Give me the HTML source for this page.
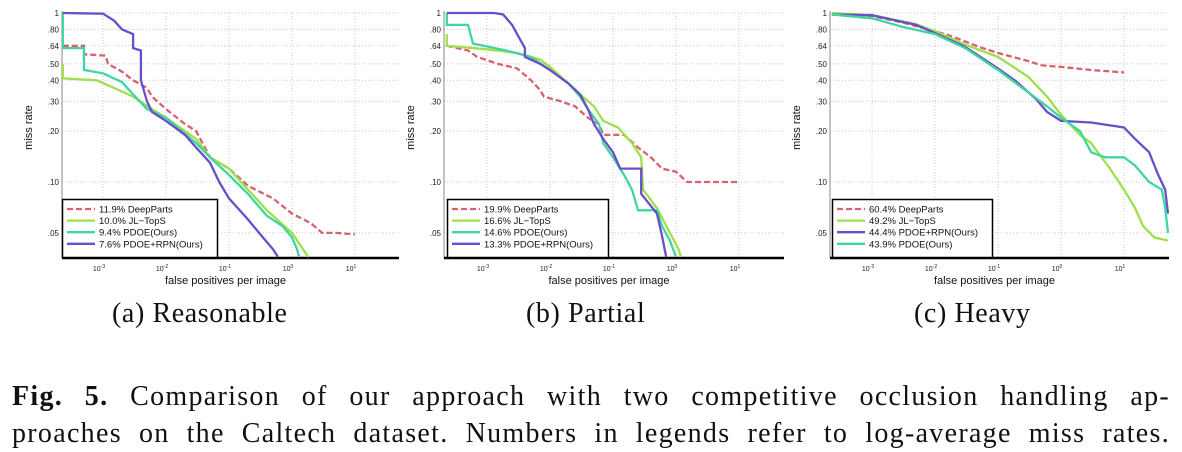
<!DOCTYPE html>
<html><head><meta charset="utf-8"><style>
body{margin:0;background:#fff;width:1182px;height:452px;overflow:hidden;position:relative;font-family:"Liberation Sans",sans-serif}
svg{position:absolute;left:0;top:0}
.cap{position:absolute;font-family:"Liberation Serif",serif;font-size:28px;letter-spacing:0.6px;color:#111;white-space:nowrap}
.fig{position:absolute;left:12px;width:1158px;font-family:"Liberation Serif",serif;font-size:28px;letter-spacing:1.3px;color:#111;text-align:justify;text-align-last:justify;white-space:nowrap}
</style></head><body>
<svg id="chart" width="1182" height="300"></svg>
<div class="cap" style="left:112px;top:298px">(a) Reasonable</div>
<div class="cap" style="left:526px;top:298px">(b) Partial</div>
<div class="cap" style="left:914px;top:298px">(c) Heavy</div>
<div class="fig" style="top:381px"><b>Fig. 5.</b> Comparison of our approach with two competitive occlusion handling ap-</div>
<div class="fig" style="top:418px">proaches on the Caltech dataset. Numbers in legends refer to log-average miss rates.</div>
<script>
const yTicks=[1,0.8,0.64,0.5,0.4,0.3,0.2,0.1,0.05];
const yTickLabels=["1",".80",".64",".50",".40",".30",".20",".10",".05"];
const xTicks=[-3,-2,-1,0,1];
const colors={dp:"#d9606f",jl:"#9ee04a",pd:"#3fd6a2",rpn:"#6b4ec9"};
// panel a
const aDeep=[[2.3e-4,.64],[5e-4,.64],[5e-4,.57],[1.1e-3,.56],[1.2e-3,.5],[2e-3,.45],[3e-3,.4],[5e-3,.36],[6e-3,.32],[1e-2,.27],[2e-2,.22],[3e-2,.2],[5e-2,.14],[1e-1,.12],[2e-1,.095],[5e-1,.08],[1,.065],[2,.057],[3,.05],[5,.05],[10,.049]];
const aJL=[[2.3e-4,.5],[2.3e-4,.41],[8e-4,.4],[1.5e-3,.36],[3e-3,.32],[6e-3,.27],[1e-2,.24],[3e-2,.18],[5e-2,.14],[1e-1,.12],[2e-1,.09],[4e-1,.068],[1,.05],[1.5,.04],[1.8,.036]];
const aPD=[[2.3e-4,1],[2.3e-4,.62],[5e-4,.62],[5e-4,.46],[1e-3,.44],[2e-3,.39],[3e-3,.33],[5e-3,.27],[1e-2,.24],[3e-2,.17],[5e-2,.14],[1e-1,.11],[2e-1,.085],[4e-1,.063],[7e-1,.055],[1,.047],[1.2,.04],[1.3,.036]];
const aRPN=[[2.3e-4,1],[1e-3,.99],[1.5e-3,.9],[2e-3,.8],[3e-3,.75],[3e-3,.62],[4e-3,.6],[4e-3,.4],[5e-3,.3],[6e-3,.26],[1e-2,.23],[2e-2,.19],[3e-2,.16],[5e-2,.13],[7e-2,.1],[1e-1,.08],[2e-1,.06],[3e-1,.05],[5e-1,.04],[6e-1,.036]];
// panel b
const bDeep=[[2.3e-4,.64],[5e-4,.6],[7e-4,.55],[1.5e-3,.5],[3e-3,.47],[5e-3,.4],[7e-3,.35],[8e-3,.32],[1.5e-2,.3],[2.5e-2,.28],[4e-2,.24],[6e-2,.22],[7e-2,.19],[1.5e-1,.19],[2.5e-1,.16],[4e-1,.14],[6e-1,.12],[1,.115],[1.5,.1],[10,.1]];
const bJL=[[2.3e-4,.75],[2.3e-4,.64],[1e-3,.61],[3e-3,.58],[7e-3,.53],[1e-2,.48],[2e-2,.38],[3e-2,.33],[5e-2,.28],[7e-2,.23],[1.2e-1,.21],[2e-1,.17],[2.8e-1,.14],[3e-1,.09],[5e-1,.07],[8e-1,.05],[1.1,.04],[1.2,.036]];
const bPD=[[2.3e-4,1],[2.3e-4,.85],[5e-4,.85],[6e-4,.66],[2e-3,.6],[5e-3,.55],[1e-2,.46],[2e-2,.38],[3e-2,.32],[4e-2,.27],[6e-2,.22],[7e-2,.17],[1e-1,.14],[1.5e-1,.11],[2e-1,.09],[2.5e-1,.068],[5e-1,.068],[6e-1,.055],[8e-1,.045],[1,.036]];
const bRPN=[[2.3e-4,1],[1.3e-3,1],[1.8e-3,.98],[2.5e-3,.85],[3e-3,.75],[4e-3,.62],[4e-3,.55],[7e-3,.5],[1e-2,.46],[2e-2,.38],[3e-2,.33],[4e-2,.27],[5e-2,.22],[7e-2,.18],[1e-1,.15],[1.3e-1,.12],[2.8e-1,.12],[2.8e-1,.085],[5e-1,.065],[6e-1,.048],[7e-1,.036]];
// panel c
const cDeep=[[2.3e-4,.98],[1e-3,.96],[3e-3,.88],[1e-2,.78],[2e-2,.72],[5e-2,.63],[1e-1,.58],[3e-1,.52],[5e-1,.49],[1,.48],[3,.46],[10,.445]];
const cJL=[[2.3e-4,1],[1e-3,.97],[5e-3,.86],[1e-2,.78],[3e-2,.65],[1e-1,.55],[3e-1,.42],[6e-1,.32],[1,.25],[2,.19],[3,.17],[6,.12],[10,.09],[15,.07],[20,.055],[30,.047],[50,.045]];
const cRPN=[[2.3e-4,.98],[1e-3,.97],[5e-3,.85],[1e-2,.76],[3e-2,.63],[1e-1,.47],[2e-1,.39],[4e-1,.31],[6e-1,.26],[1,.23],[3,.225],[10,.21],[15,.18],[25,.15],[35,.11],[45,.09],[50,.065]];
const cPD=[[2.3e-4,.98],[1e-3,.93],[3e-3,.83],[1e-2,.75],[3e-2,.62],[1e-1,.46],[3e-1,.34],[6e-1,.28],[1,.24],[2,.2],[3,.15],[5,.14],[10,.14],[15,.125],[25,.1],[40,.09],[45,.07],[50,.05]];

const NS="http://www.w3.org/2000/svg";
const svg=document.getElementById('chart');
function mk(tag,attrs,parent){const e=document.createElementNS(NS,tag);for(const k in attrs)e.setAttribute(k,attrs[k]);(parent||svg).appendChild(e);return e;}
const panels=[
 {id:"a",left:62,dec:103,right:399,series:[["dp",aDeep,"11.9% DeepParts"],["jl",aJL,"10.0% JL−TopS"],["pd",aPD,"9.4% PDOE(Ours)"],["rpn",aRPN,"7.6% PDOE+RPN(Ours)"]],leg:[62,217]},
 {id:"b",left:444,dec:487,right:784,series:[["dp",bDeep,"19.9% DeepParts"],["jl",bJL,"16.6% JL−TopS"],["pd",bPD,"14.6% PDOE(Ours)"],["rpn",bRPN,"13.3% PDOE+RPN(Ours)"]],leg:[447,608]},
 {id:"c",left:830,dec:872,right:1169,series:[["dp",cDeep,"60.4% DeepParts"],["jl",cJL,"49.2% JL−TopS"],["rpn",cRPN,"44.4% PDOE+RPN(Ours)"],["pd",cPD,"43.9% PDOE(Ours)"]],leg:[832,992]}
];
const TOP=13,BOT=258,YD=169,XD=63;
panels.forEach(p=>{
 const g=mk('g',{});
 
 
 const xs=v=>p.dec+(Math.log10(v)+3)*XD;
 const ys=v=>TOP-Math.log10(v)*YD;
 const cp=mk('clipPath',{id:'clip'+p.id},g);
 mk('rect',{x:p.left,y:TOP-3,width:p.right-p.left,height:BOT-TOP+3},cp);
 yTicks.forEach((t,i)=>{
  const y=ys(t);
  const gl=mk('line',{x1:p.left,x2:p.right,y1:y,y2:y,stroke:"#c8c8c8","stroke-width":1,"stroke-dasharray":"1,2"},g);
  
  const tl=mk('text',{x:p.left-3,y:y+3,"font-size":8,"text-anchor":"end",fill:"#222"},g);
  
  tl.textContent=yTickLabels[i];
 });
 xTicks.forEach(t=>{
  const x=p.dec+(t+3)*XD;
  const gl=mk('line',{x1:x,x2:x,y1:TOP,y2:BOT,stroke:"#c8c8c8","stroke-width":1,"stroke-dasharray":"1,2"},g);
  
  const tl=mk('text',{x:x-4,y:BOT+13,"font-size":7,"text-anchor":"middle",fill:"#222"},g);
  
  tl.textContent="10";
  const sp=mk('tspan',{dy:-3,"font-size":5},tl);sp.textContent=String(t);
 });
 mk('line',{x1:p.left,x2:p.left,y1:TOP-2,y2:BOT,stroke:"#888","stroke-width":1},g);
 const xa=mk('line',{x1:p.left,x2:p.right,y1:BOT,y2:BOT,stroke:"#000","stroke-width":2.5},g);
 
 const xt=mk('text',{x:(p.left+p.right)/2-5,y:BOT+26,"font-size":11,"text-anchor":"middle",fill:"#111"},g);
 
 xt.textContent="false positives per image";
 const yt=mk('text',{x:0,y:0,"font-size":11,"text-anchor":"middle",fill:"#111",transform:`translate(${p.left-30},${(TOP+BOT)/2-8}) rotate(-90)`},g);
 
 yt.textContent="miss rate";
 const sg=mk('g',{"clip-path":`url(#clip${p.id})`},g);
 p.series.forEach(([k,data])=>{
  let d="";data.forEach((pt,i)=>{d+=(i?"L":"M")+xs(pt[0]).toFixed(1)+","+ys(pt[1]).toFixed(1);});
  const path=mk('path',{d:d,fill:"none",stroke:colors[k],"stroke-width":2.3,"stroke-linejoin":"miter","stroke-dasharray":k==="dp"?"6,3":"none"},sg);
  
  
 });
 const lg=mk('g',{},g);
 
 
 mk('rect',{x:p.leg[0]+0.5,y:199.5,width:p.leg[1]-p.leg[0],height:58,fill:"#fff",stroke:"#000","stroke-width":1.5},lg);
 p.series.forEach(([k,,label],i)=>{
  const y=209+i*11.6;
  mk('line',{x1:p.leg[0]+5,x2:p.leg[0]+33,y1:y,y2:y,stroke:colors[k],"stroke-width":2.3,"stroke-dasharray":k==="dp"?"6,3":"none"},lg);
  const t=mk('text',{x:p.leg[0]+37,y:y+3.5,"font-size":9.5,fill:"#111"},lg);
  
  t.textContent=label;
 });
});
</script>
</body></html>
